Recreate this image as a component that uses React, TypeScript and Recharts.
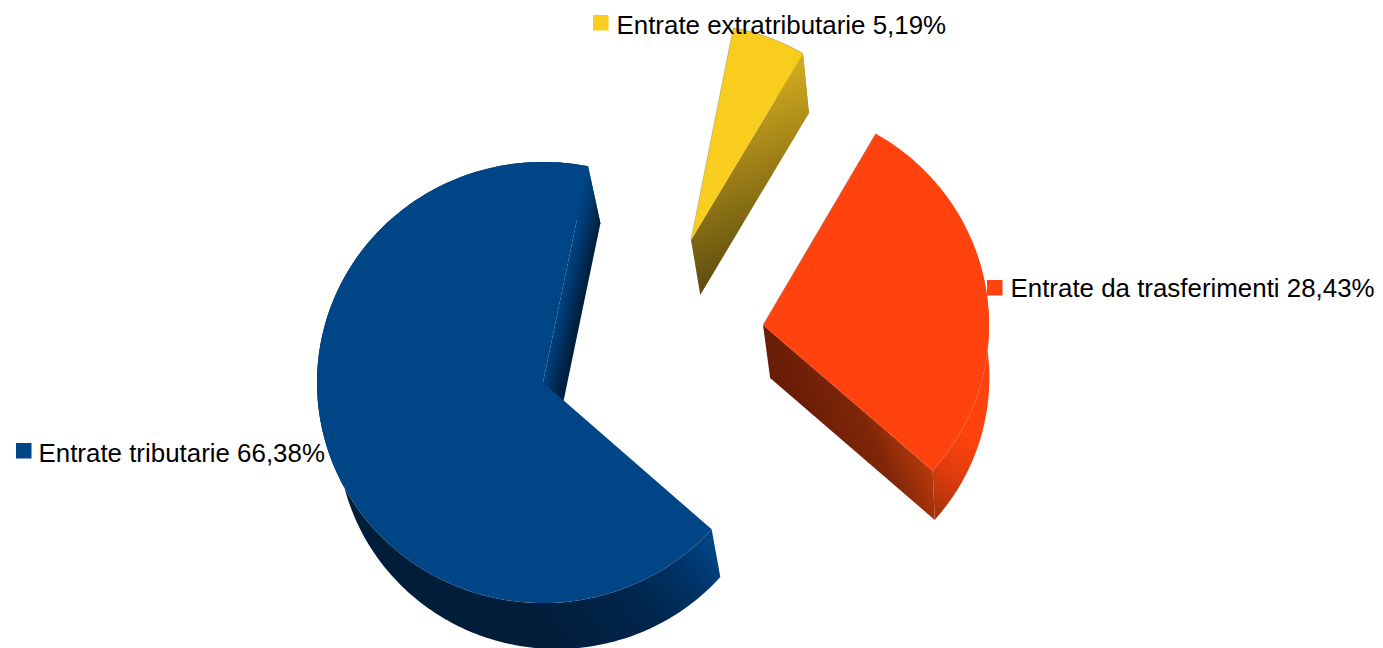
import React from "react";
import { PieChart, Pie } from "recharts";

const categories = ["Entrate extratributarie", "Entrate da trasferimenti", "Entrate tributarie"];
const shares = [5.19, 28.43, 66.38];
const colors = ["#f9cd1e", "#ff420e", "#004586"];

const rows = categories.map((name, i) => ({ name, value: shares[i], fill: colors[i] }));

const RX = 226;
const RY_RATIO = 0.976;
const depth = (x: number, y: number): [number, number] => [0.97 * x + 30, 0.975 * y + 61];

type Stop = [number, string];
type Grad = { from: [number, number]; to: [number, number]; stops: Stop[] };
type Look = { dx: number; dy: number; scale: number; edge: number; tiltStart: number; tiltEnd: number; wall: Grad; rim: Grad };

const looks: Look[] = [
  {
    dx: 148, dy: -142.5, scale: 0.98, edge: 2, tiltStart: 0, tiltEnd: -0.7,
    wall: { from: [803, 52], to: [870, 234], stops: [[0, "#d8ae20"], [1, "#5a4a0e"]] },
    rim: { from: [803, 52], to: [870, 234], stops: [[0, "#d8ae20"], [1, "#5a4a0e"]] },
  },
  {
    dx: 220, dy: -57.5, scale: 1, edge: 1, tiltStart: -0.2, tiltEnd: 0.7,
    wall: { from: [763, 325], to: [849, 286], stops: [[0, "#6a1d06"], [0.55, "#7f2608"], [1, "#b8390c"]] },
    rim: { from: [930, 515], to: [985, 420], stops: [[0, "#a0320b"], [0.42, "#e03c0d"], [0.8, "#ff420e"]] },
  },
  {
    dx: 0, dy: 0, scale: 1, edge: 0, tiltStart: 0.3, tiltEnd: -0.5,
    wall: { from: [588, 166], to: [611.6, 171.4], stops: [[0, "#004586"], [0.3, "#003c76"], [1, "#001f3e"]] },
    rim: { from: [560, 650], to: [705, 535], stops: [[0, "#001d3a"], [0.5, "#00264c"], [0.8, "#003468"], [0.95, "#004080"], [1, "#004586"]] },
  },
];

const legendSpots: { box: [number, number]; text: [number, number] }[] = [
  { box: [593, 15], text: [616.5, 34] },
  { box: [987, 280], text: [1010.5, 297] },
  { box: [16, 443], text: [38.5, 461.5] },
];

function LinearDef({ id, g }: { id: string; g: Grad }) {
  return (
    <linearGradient id={id} gradientUnits="userSpaceOnUse" x1={g.from[0]} y1={g.from[1]} x2={g.to[0]} y2={g.to[1]}>
      {g.stops.map(([o, c]) => (
        <stop key={o} offset={o} stopColor={c} />
      ))}
    </linearGradient>
  );
}

const toPath = (pts: [number, number][]) =>
  "M" + pts.map((p) => `${p[0].toFixed(2)},${p[1].toFixed(2)}`).join("L");

function Slice(props: any) {
  const { cx, cy, startAngle, endAngle, outerRadius, index, fill } = props;
  const look = looks[index];
  const ox = cx + look.dx;
  const oy = cy + look.dy;
  const rx = (outerRadius || RX) * look.scale;
  const ry = rx * RY_RATIO;
  const from = startAngle + look.tiltStart;
  const to = endAngle + look.tiltEnd;
  const n = Math.max(6, Math.ceil(Math.abs(to - from)));
  const arc: [number, number][] = [];
  for (let k = 0; k <= n; k++) {
    const a = ((from + ((to - from) * k) / n) * Math.PI) / 180;
    arc.push([ox + rx * Math.cos(a), oy - ry * Math.sin(a)]);
  }
  const lowArc = arc.map((p) => depth(p[0], p[1]));
  const apex: [number, number] = [ox, oy];
  const lowApex = depth(ox, oy);
  const last = arc[arc.length - 1];
  const lowLast = lowArc[lowArc.length - 1];
  const rimPts = [...arc, ...lowArc.slice().reverse()];
  const wallPts: [number, number][] = [apex, last, lowLast, lowApex];
  const facePts = [apex, ...arc];
  const edgePts = look.edge === 2 ? facePts : look.edge === 1 ? [apex, arc[0]] : null;
  return (
    <g>
      <defs>
        <LinearDef id={`wall${index}`} g={look.wall} />
        <LinearDef id={`rim${index}`} g={look.rim} />
      </defs>
      <path d={toPath(rimPts) + "Z"} fill={`url(#rim${index})`} />
      <path d={toPath(wallPts) + "Z"} fill={`url(#wall${index})`} />
      <path d={toPath(facePts) + "Z"} fill={fill} />
      {edgePts && <path d={toPath(edgePts)} fill="none" stroke="rgba(110,110,110,0.55)" strokeWidth={0.6} />}
    </g>
  );
}

function LegendLabel(props: any) {
  const { index, name, value, fill } = props;
  const spot = legendSpots[index];
  const shown = `${name} ${Number(value).toFixed(2).replace(".", ",")}%`;
  return (
    <g>
      <rect x={spot.box[0]} y={spot.box[1]} width={15.5} height={15.5} fill={fill} />
      <text x={spot.text[0]} y={spot.text[1]} fontFamily="Liberation Sans" fontSize={25.9} fill="#000">
        {shown}
      </text>
    </g>
  );
}

export default function App() {
  return (
    <div style={{ position: "absolute", left: 0, top: 0, width: 1383, height: 648, overflow: "hidden", background: "#fff" }}>
      <PieChart width={1383} height={648} margin={{ top: 0, right: 0, bottom: 0, left: 0 }}>
        <Pie
          data={rows}
          dataKey="value"
          nameKey="name"
          cx={543}
          cy={382.5}
          innerRadius={0}
          outerRadius={RX}
          startAngle={79}
          endAngle={-281}
          stroke="none"
          isAnimationActive={false}
          shape={Slice}
          label={LegendLabel}
          labelLine={false}
        />
      </PieChart>
    </div>
  );
}
